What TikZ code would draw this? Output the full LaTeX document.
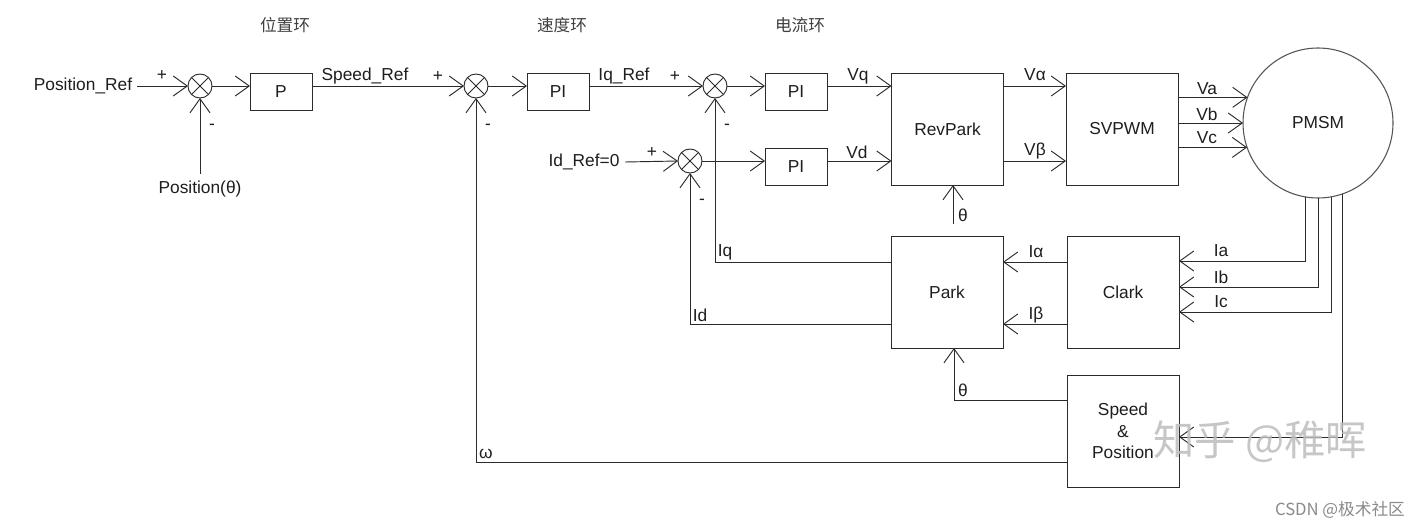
\documentclass[tikz,border=0pt]{standalone}
\usepackage{fontspec}
\setmainfont{Liberation Sans}
\newfontfamily\cjk{Noto Sans CJK SC}
\usetikzlibrary{arrows.meta}
\definecolor{linec}{HTML}{2B2B2B}
\definecolor{txtc}{HTML}{1E1E1E}
\definecolor{wmc}{HTML}{BDBDBD}
\definecolor{csdnc}{HTML}{8A8A8A}
\begin{document}
\begin{tikzpicture}[x=0.75pt,y=-0.75pt,
  lab/.style={font=\fontsize{13}{15}\selectfont, inner sep=0pt, text=txtc},
  cjklab/.style={font=\cjk\fontsize{12.5}{14}\selectfont, inner sep=0pt, text=txtc!85},
  blk/.style={draw=linec, line width=0.7pt, rectangle, inner sep=0pt, outer sep=0pt,
              font=\fontsize{13}{16}\selectfont, text=txtc},
  smallblk/.style={blk, minimum width=46.5pt, minimum height=27.75pt},
  bigblk/.style={blk, minimum width=84pt, minimum height=84pt},
  sumn/.style={draw=linec, line width=0.7pt, circle, minimum size=18pt, inner sep=0pt, outer sep=0pt,
    path picture={\draw[linec, line width=0.7pt]
      (path picture bounding box.north west) -- (path picture bounding box.south east)
      (path picture bounding box.north east) -- (path picture bounding box.south west);}},
  sig/.style={draw=linec, line width=0.7pt, -{Straight Barb[length=10.5pt, width=15pt, line width=0.7pt]}}
]
\fill[white] (0,0) rectangle (1424,528);
\useasboundingbox (0,0) rectangle (1424,528);

% headings
\node[cjklab] at (285,25) {位置环};
\node[cjklab] at (562,25) {速度环};
\node[cjklab] at (800,25) {电流环};

% position loop
\node[lab, inner xsep=3.5pt] (posref) at (83,86) {Position\_Ref};
\node[sumn] (s1) at (200,86) {};
\node[lab] at (162,75) {+};
\node[lab] at (212,127) {-};
\node[lab, inner ysep=5pt] (post) at (200,189) {Position(θ)};
\node[smallblk] (p) at (281,91.5) {P};
\node[lab] at (365,76) {Speed\_Ref};

% speed loop
\node[lab] at (438,76) {+};
\node[sumn] (s2) at (476,86) {};
\node[lab] at (488,127) {-};
\node[smallblk] (pi1) at (558,91.5) {PI};
\node[lab] at (624,76) {Iq\_Ref};

% current loop
\node[lab] at (675,76) {+};
\node[sumn] (s3) at (715,86) {};
\node[lab] at (727,127) {-};
\node[smallblk] (pi2) at (796,91.5) {PI};
\node[lab] at (858,76) {Vq};
\node[lab, inner xsep=4pt] (idr) at (584,162) {Id\_Ref=0};
\node[lab] at (652,152) {+};
\node[sumn] (s4) at (690,161) {};
\node[lab] at (702,202) {-};
\node[smallblk] (pi3) at (796,166.5) {PI};
\node[lab] at (857,152) {Vd};

% blocks
\node[bigblk] (rp) at (947.5,129) {RevPark};
\node[lab] at (1035,75) {Vα};
\node[lab] at (1035,151) {Vβ};
\node[bigblk] (sv) at (1122,129) {SVPWM};
\node[lab] at (1207,89) {Va};
\node[lab] at (1207,114) {Vb};
\node[lab] at (1207,138) {Vc};
\node[draw=linec!80, line width=0.8pt, circle, minimum size=112.5pt, inner sep=0pt, outer sep=0pt,
      font=\fontsize{13}{16}\selectfont, text=txtc] (pm) at (1318,123) {PMSM};
\node[lab] at (963,215) {θ};
\node[bigblk] (pk) at (947,292) {Park};
\node[lab] at (725,252) {Iq};
\node[lab] at (700,315) {Id};
\node[lab] at (1036,252) {Iα};
\node[lab] at (1036,315) {Iβ};
\node[bigblk] (cl) at (1123,292) {Clark};
\node[lab] at (1221,251) {Ia};
\node[lab] at (1221,277) {Ib};
\node[lab] at (1221,302) {Ic};
\node[bigblk, align=center] (sp) at (1123,431) {Speed\\\&\\Position};
\node[lab] at (963,390) {θ};
\node[lab] at (486,454) {ω};

% helper coordinates
\coordinate (yIa) at (0,261);
\coordinate (yIb) at (0,287);
\coordinate (yIc) at (0,312);
\coordinate (yq) at (0,262);
\coordinate (yd) at (0,324);
\coordinate (yth) at (0,400);
\coordinate (yw) at (0,462);
\coordinate (ysp) at (0,437);
\coordinate (xth) at (954,0);
\coordinate (th1) at (953,224);

% connectors
\draw[sig] (posref.east) -- (s1.west);
\draw[sig] (post.north) -- (s1.south);
\draw[sig] (s1.east) -- (p.west|-s1.east);
\draw[sig] (p.east|-s2.west) -- (s2.west);
\draw[sig] (s2.east) -- (pi1.west|-s2.east);
\draw[sig] (pi1.east|-s3.west) -- (s3.west);
\draw[sig] (s3.east) -- (pi2.west|-s3.east);
\draw[sig] (pi2.east|-s3.east) -- (rp.west|-s3.east);
\draw[sig] (idr.east) -- (s4.west);
\draw[sig] (s4.east) -- (pi3.west|-s4.east);
\draw[sig] (pi3.east|-s4.east) -- (rp.west|-s4.east);
\draw[sig] (rp.east|-s3.east) -- (sv.west|-s3.east);
\draw[sig] (rp.east|-s4.east) -- (sv.west|-s4.east);
\draw[sig] (sv.east|-pm.160.5) -- (pm.160.5);
\draw[sig] (sv.east|-pm.west) -- (pm.west);
\draw[sig] (sv.east|-pm.199.5) -- (pm.199.5);
\draw[sig] (th1) -- (th1|-rp.south);
\draw[sig] (pm.260.8) |- (cl.east|-yIa);
\draw[sig] (pm.south) |- (cl.east|-yIb);
\draw[sig] (pm.280) |- (cl.east|-yIc);
\draw[sig] (cl.west|-yq) -- (pk.east|-yq);
\draw[sig] (cl.west|-yd) -- (pk.east|-yd);
\draw[sig] (pk.west|-yq) -| (s3.south);
\draw[sig] (pk.west|-yd) -| (s4.south);
\draw[sig] (sp.west|-yth) -| (pk.south-|xth);
\draw[sig] (sp.west|-yw) -| (s2.south);
\draw[sig] (pm.289.5) |- (sp.east|-ysp);

% watermarks
\node[font=\cjk\fontsize{31}{31}\selectfont, text=wmc, opacity=0.85] at (1260,442) {知乎 @稚晖};
\node[font=\cjk\fontsize{12.5}{14}\selectfont, text=csdnc] at (1340,510) {CSDN @极术社区};
\end{tikzpicture}
\end{document}
